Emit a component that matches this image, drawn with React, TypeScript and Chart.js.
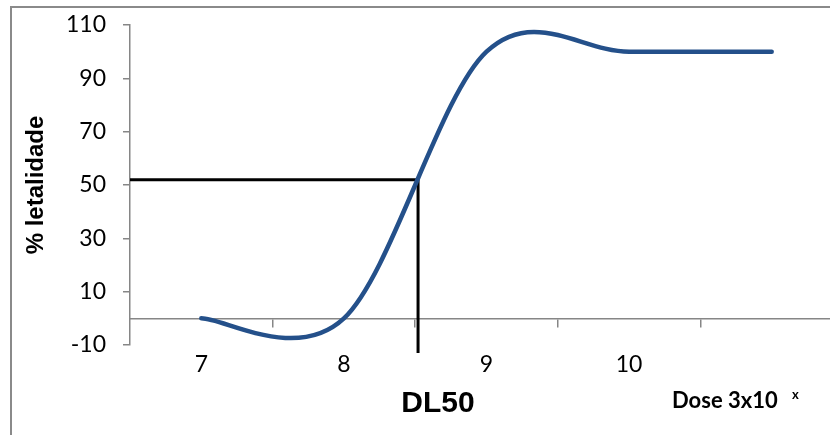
import React, { useEffect, useRef } from 'react';
import { Chart, registerables } from 'chart.js';

Chart.register(...registerables);

// ---- data ----
const doses = [7, 8, 9, 10, 11];
const doseLabels = ['7', '8', '9', '10', ''];
const lethality = [0, 0, 100, 100, 100];
const yTickValues = [-10, 10, 30, 50, 70, 90, 110];
const categoryBoundaries = [7.5, 8.5, 9.5, 10.5];
const dl50Dose = [6.5, 8.52, 8.52];
const dl50Lethality = [52, 52, -13];

// Excel-style smoothing (Catmull-Rom, 1/6 factor) applied to the library's own points
const excelSmooth = {
  id: 'excelSmooth',
  beforeDatasetsDraw(chart: any) {
    const meta = chart.getDatasetMeta(0);
    const pts = meta.data;
    const n = pts.length;
    for (let i = 0; i < n; i++) {
      const p = pts[i];
      const prev = pts[Math.max(i - 1, 0)];
      const next = pts[Math.min(i + 1, n - 1)];
      const dx = (next.x - prev.x) / 6;
      const dy = (next.y - prev.y) / 6;
      p.cp1x = p.x - dx;
      p.cp1y = p.y - dy;
      p.cp2x = p.x + dx;
      p.cp2y = p.y + dy;
    }
    if (meta.dataset) {
      meta.dataset._pointsUpdated = true;
      meta.dataset._path = undefined;
    }
  },
};

const annotations = {
  id: 'annotations',
  afterDraw(chart: any) {
    const ctx = chart.ctx;
    ctx.save();
    ctx.fillStyle = '#000';
    ctx.textBaseline = 'alphabetic';
    ctx.textAlign = 'center';
    ctx.font = 'bold 30px "Liberation Sans", Arial, sans-serif';
    ctx.fillText('DL50', 426, 404);
    ctx.textAlign = 'left';
    ctx.font = 'bold 22px Lato, sans-serif';
    ctx.fillText('Dose 3x10', 660, 400);
    ctx.font = 'bold 13px Lato, sans-serif';
    ctx.fillText('x', 780, 391);
    ctx.restore();
  },
};

export default function App() {
  const ref = useRef<HTMLCanvasElement | null>(null);

  useEffect(() => {
    if (!ref.current) return;
    const gray = '#868686';
    const chart = new Chart(ref.current, {
      type: 'line',
      data: {
        datasets: [
          {
            data: doses.map((d, i) => ({ x: d, y: lethality[i] })),
            borderColor: '#24508a',
            borderWidth: 4.5,
            pointRadius: 0,
            tension: 0.4,
            borderCapStyle: 'round',
            borderJoinStyle: 'round',
            xAxisID: 'x',
            yAxisID: 'y',
          },
          {
            data: dl50Dose.map((d, i) => ({ x: d, y: dl50Lethality[i] })),
            borderColor: '#000',
            borderWidth: 3,
            pointRadius: 0,
            tension: 0,
            clip: false,
            xAxisID: 'x',
            yAxisID: 'y',
          },
        ],
      },
      options: {
        animation: false,
        responsive: false,
        events: [],
        plugins: { legend: { display: false }, tooltip: { enabled: false } },
        layout: { padding: { left: 0, top: 17, right: 19, bottom: 0 } },
        scales: {
          x: {
            type: 'linear',
            min: 6.5,
            max: 11.5,
            position: 'bottom',
            afterBuildTicks: (s: any) => {
              s.ticks = doses.map((v) => ({ value: v }));
            },
            ticks: {
              callback: (v: any) => {
                const i = doses.indexOf(Number(v));
                return i >= 0 ? doseLabels[i] : '';
              },
              font: { family: 'Lato', size: 23 },
              color: '#000',
              padding: 6,
              maxRotation: 0,
              autoSkip: false,
            },
            grid: { display: false, drawTicks: false },
            border: { display: false },
            afterFit: (s: any) => {
              s.height = 93;
              s.paddingLeft = 0;
              s.paddingRight = 0;
            },
          },
          x0: {
            type: 'linear',
            min: 6.5,
            max: 11.5,
            position: { y: 0 } as any,
            afterBuildTicks: (s: any) => {
              s.ticks = categoryBoundaries.map((v) => ({ value: v }));
            },
            ticks: { display: false },
            grid: { drawOnChartArea: false, drawTicks: true, tickLength: 8, color: gray, lineWidth: 1.5 },
            border: { display: true, color: gray, width: 1.5 },
          },
          y: {
            type: 'linear',
            min: -10,
            max: 110,
            afterBuildTicks: (s: any) => {
              s.ticks = yTickValues.map((v) => ({ value: v }));
            },
            ticks: { font: { family: 'Lato', size: 23 }, color: '#000', padding: 17 },
            grid: { drawOnChartArea: false, tickLength: 7, color: gray, lineWidth: 1.5 },
            border: { color: gray, width: 1.5 },
            title: {
              display: true,
              text: '% letalidade',
              font: { family: 'Liberation Sans', weight: 'bold', size: 24 },
              color: '#000',
              padding: { top: 10, bottom: 0 },
            },
            afterFit: (s: any) => {
              s.width = 118;
              s.paddingTop = 0;
              s.paddingBottom = 0;
            },
          },
        },
      },
      plugins: [excelSmooth, annotations],
    } as any);
    return () => chart.destroy();
  }, []);

  return (
    <div
      style={{
        position: 'fixed',
        left: 0,
        top: 0,
        width: 830,
        height: 435,
        overflow: 'hidden',
        background: '#fff',
      }}
    >
      <div
        style={{
          position: 'absolute',
          left: 10,
          top: 6,
          width: 880,
          height: 470,
          border: '2px solid #8a8a8a',
        }}
      >
        <canvas ref={ref} width={850} height={430} style={{ display: 'block' }} />
      </div>
    </div>
  );
}
